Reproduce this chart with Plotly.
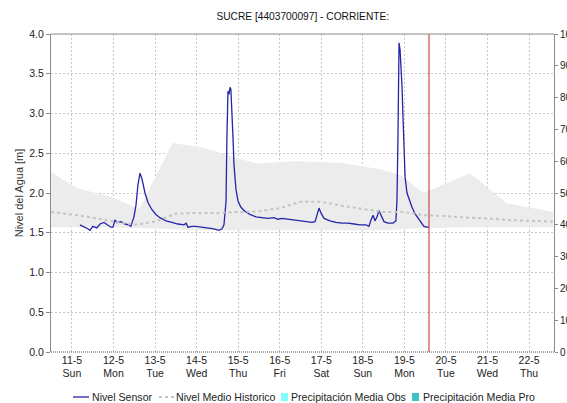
import pandas as pd
import plotly.graph_objects as go

# Reference time origin (tick "11-5")
t0 = pd.Timestamp("2025-05-11 00:00")

# Water level from the sensor: hours after origin, level in metres
sensor_hours = [4.6, 6.9, 9.2, 10.4, 12.0, 14.4, 16.2, 18.5, 20.8, 22.5, 23.7, 24.8, 26.0,
                28.3, 30.6, 32.9, 34.0, 35.8, 37.0, 38.1, 39.3, 40.4, 42.2, 43.9, 46.2,
                48.5, 50.8, 54.3, 57.8, 61.2, 64.7, 66.0, 67.0, 69.3, 71.6, 75.1, 78.6,
                82.0, 84.9, 86.6, 87.8, 89.0, 89.5, 90.1, 90.7, 91.3, 91.8, 92.4, 93.0,
                93.6, 94.7, 95.9, 97.6, 99.9, 102.8, 106.3, 109.7, 113.2, 116.7, 119.0,
                121.3, 124.8, 128.2, 131.7, 135.2, 138.6, 140.4, 141.5, 142.7, 143.8,
                145.6, 149.0, 152.5, 156.0, 159.4, 162.9, 166.3, 169.8, 171.5, 172.7,
                173.9, 175.0, 176.2, 177.3, 178.5, 180.2, 182.5, 185.4, 187.1, 187.7,
                188.3, 188.9, 189.5, 190.0, 190.6, 191.2, 191.8, 192.4, 193.5, 194.7,
                196.4, 198.1, 199.9, 201.6, 203.3, 205.0, 206.2]
sensor_level = [1.60, 1.58, 1.55, 1.53, 1.58, 1.56, 1.61, 1.63, 1.60, 1.57, 1.57, 1.66, 1.63,
                1.64, 1.61, 1.60, 1.58, 1.70, 1.85, 2.10, 2.25, 2.18, 2.00, 1.88, 1.79,
                1.73, 1.69, 1.65, 1.63, 1.61, 1.60, 1.62, 1.57, 1.58, 1.58, 1.57, 1.56,
                1.55, 1.53, 1.55, 1.60, 1.90, 2.70, 3.28, 3.24, 3.33, 3.30, 3.05, 2.70,
                2.35, 2.05, 1.90, 1.82, 1.77, 1.73, 1.70, 1.69, 1.68, 1.69, 1.67,
                1.68, 1.67, 1.66, 1.65, 1.64, 1.63, 1.64, 1.72, 1.81, 1.75,
                1.68, 1.65, 1.63, 1.62, 1.62, 1.61, 1.60, 1.60, 1.58, 1.66,
                1.72, 1.65, 1.70, 1.78, 1.72, 1.64, 1.62, 1.62, 1.65, 1.90,
                2.70, 3.89, 3.80, 3.60, 3.35, 2.95, 2.50, 2.20, 2.00, 1.92,
                1.82, 1.74, 1.68, 1.62, 1.58, 1.57, 1.57]

# Historical envelope (min / max) of the level
band_hours = [-12, 3, 23, 39, 58, 76, 95, 107, 130, 155, 178, 190, 203, 230, 251, 278]
band_upper = [2.26, 2.06, 1.95, 1.80, 2.63, 2.57, 2.44, 2.37, 2.40, 2.38, 2.30, 2.22,
              2.00, 2.25, 1.87, 1.76]
band_lower = [1.57, 1.57, 1.57, 1.56, 1.54, 1.53, 1.53, 1.53, 1.53, 1.53, 1.53, 1.54,
              1.56, 1.57, 1.57, 1.57]

# Historical mean level
mean_hours = [-12, 0, 12, 24, 36, 48, 60, 72, 84, 96, 108, 120, 132, 144, 156, 168, 180,
              192, 204, 216, 228, 240, 252, 264, 278]
mean_level = [1.76, 1.73, 1.69, 1.64, 1.60, 1.64, 1.74, 1.75, 1.75, 1.76, 1.77, 1.81, 1.89,
              1.89, 1.84, 1.80, 1.76, 1.76, 1.72, 1.71, 1.69, 1.68, 1.66, 1.65, 1.64]

# Areal precipitation (observed / forecast), percent axis: no rain in the window
precip_hours = [204]
precip_obs = [0.0]
precip_pro = [0.0]

# Current time marker and view window (hours after origin)
now_hours = 206.2
view_hours = [-12.1, 278.4]

tick_hours = [0, 24, 48, 72, 96, 120, 144, 168, 192, 216, 240, 264]
tick_labels = ["11-5<br>Sun", "12-5<br>Mon", "13-5<br>Tue", "14-5<br>Wed", "15-5<br>Thu",
               "16-5<br>Fri", "17-5<br>Sat", "18-5<br>Sun", "19-5<br>Mon", "20-5<br>Tue",
               "21-5<br>Wed", "22-5<br>Thu"]

series_names = ["Nivel Sensor", "Nivel Medio Historico",
                "Precipitación Media Obs", "Precipitación Media Pro"]


def to_time(hours):
    return [t0 + pd.Timedelta(hours=h) for h in hours]


FONT = "Liberation Sans, Arial, sans-serif"
GRID = "#c8c8c8"
AXIS = "#8a8a8a"
C_SENSOR = "#2424aa"
C_MEAN = "#c4c4c4"
C_OBS = "#80ffff"
C_PRO = "#3cc4c4"

# plot-area geometry in pixels (used for the hand-built legend below the axis)
L, R, T, B, W, H = 51, 13, 34, 51, 567, 403
PW, PH = W - L - R, H - T - B


def px(xp):
    return (xp - L) / PW


def py(yp):
    return (H - B - yp) / PH


fig = go.Figure()

fig.add_trace(go.Scatter(x=to_time(band_hours), y=band_lower, mode="lines",
                         line=dict(width=0, color="#ececec"), hoverinfo="skip"))
fig.add_trace(go.Scatter(x=to_time(band_hours), y=band_upper, mode="lines",
                         line=dict(width=0, color="#ececec"), fill="tonexty",
                         fillcolor="#ececec", hoverinfo="skip"))
fig.add_trace(go.Scatter(x=to_time(sensor_hours), y=sensor_level, mode="lines",
                         name=series_names[0], line=dict(color=C_SENSOR, width=1.3)))
fig.add_trace(go.Scatter(x=to_time(mean_hours), y=mean_level, mode="lines",
                         name=series_names[1],
                         line=dict(color=C_MEAN, width=2, dash="3px,3px")))
fig.add_trace(go.Bar(x=to_time(precip_hours), y=precip_obs, yaxis="y2",
                     name=series_names[2], marker=dict(color=C_OBS, line=dict(width=0))))
fig.add_trace(go.Bar(x=to_time(precip_hours), y=precip_pro, yaxis="y2",
                     name=series_names[3], marker=dict(color=C_PRO, line=dict(width=0))))

# now marker
fig.add_shape(type="line", xref="x", yref="paper", x0=t0 + pd.Timedelta(hours=now_hours),
              x1=t0 + pd.Timedelta(hours=now_hours), y0=0, y1=1,
              line=dict(color="#c0282c", width=1))
# top frame and dotted baseline
fig.add_shape(type="line", xref="paper", yref="paper", x0=0, x1=1, y0=1, y1=1,
              line=dict(color=AXIS, width=1))
fig.add_shape(type="line", xref="paper", yref="paper", x0=0, x1=1, y0=0, y1=0,
              line=dict(color="#505050", width=1, dash="1px,1px"))

# legend row
LEG_Y = 397
fig.add_shape(type="line", xref="paper", yref="paper", x0=px(73), x1=px(89),
              y0=py(LEG_Y), y1=py(LEG_Y), line=dict(color=C_SENSOR, width=1.3))
fig.add_shape(type="line", xref="paper", yref="paper", x0=px(159), x1=px(174),
              y0=py(LEG_Y), y1=py(LEG_Y), line=dict(color=C_MEAN, width=2, dash="3px,3px"))
fig.add_shape(type="rect", xref="paper", yref="paper", x0=px(281), x1=px(288),
              y0=py(LEG_Y + 4), y1=py(LEG_Y - 4), fillcolor=C_OBS, line=dict(width=0))
fig.add_shape(type="rect", xref="paper", yref="paper", x0=px(412), x1=px(419),
              y0=py(LEG_Y + 4), y1=py(LEG_Y - 4), fillcolor=C_PRO, line=dict(width=0))
for name, xl in zip(series_names, [90, 174, 289, 421]):
    fig.add_annotation(text=name, xref="paper", yref="paper", x=px(xl), y=py(LEG_Y),
                       xanchor="left", yanchor="middle", showarrow=False,
                       font=dict(size=10.6, color="#222222"))

fig.update_layout(
    width=W, height=H,
    margin=dict(l=L, r=R, t=T, b=B, autoexpand=False),
    paper_bgcolor="white", plot_bgcolor="white",
    font=dict(family=FONT, size=11, color="#222222"),
    title=dict(text="SUCRE [4403700097] - CORRIENTE:", x=0.534, xanchor="center",
               y=0.958, yanchor="middle", font=dict(size=10.2, color="#111111")),
    showlegend=False,
    xaxis=dict(type="date", range=to_time(view_hours), tickvals=to_time(tick_hours),
               ticktext=tick_labels, showgrid=True, gridcolor=GRID, griddash="2px,2px",
               gridwidth=1, showline=False, ticks="", zeroline=False, automargin=False,
               tickfont=dict(size=10.5)),
    yaxis=dict(range=[0, 4], dtick=0.5, tickformat=".1f", showgrid=True, gridcolor=GRID,
               griddash="2px,2px", showline=True, linecolor=AXIS, ticks="outside",
               ticklen=4, tickcolor=AXIS, zeroline=False, tickfont=dict(size=10.5),
               automargin=False,
               title=dict(text="Nivel del Agua [m]", font=dict(size=11, color="#333333"),
                          standoff=3)),
    yaxis2=dict(range=[0, 100], dtick=10, overlaying="y", side="right", showgrid=False,
                showline=True, linecolor=AXIS, ticks="outside", ticklen=3, tickcolor=AXIS,
                zeroline=False, automargin=False, tickfont=dict(size=10)),
    bargap=0,
)

fig.write_html("out.html")
